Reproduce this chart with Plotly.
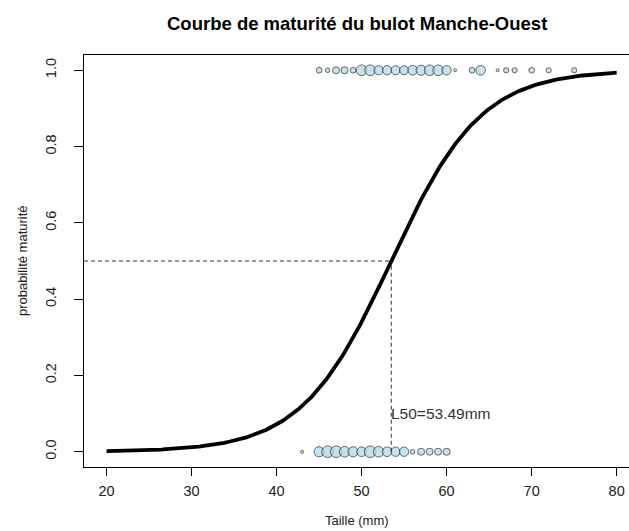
import numpy as np
import plotly.graph_objects as go

# Length classes (mm) and number of individuals per class
taille_matures = [45, 46, 47, 48, 49, 50, 51, 52, 53, 54, 55, 56, 57, 58, 59, 60,
                  61, 63, 64, 66, 67, 68, 70, 72, 75]
n_matures = [5, 3, 8, 8, 5, 20, 20, 15, 15, 14, 14, 16, 18, 20, 20, 15,
             1, 5, 16, 1, 4, 4, 5, 4, 4]

taille_immatures = [43, 45, 46, 47, 48, 49, 50, 51, 52, 53, 54, 55, 56, 57, 58, 59, 60]
n_immatures = [1, 18, 24, 24, 20, 18, 16, 24, 20, 16, 15, 15, 3, 8, 8, 8, 8]

# Fitted logistic maturity ogive
L50 = 53.49
pente = 0.19
taille_min, taille_max = 20, 80

x_tick_vals = [20, 30, 40, 50, 60, 70, 80]
y_tick_vals = [0.0, 0.2, 0.4, 0.6, 0.8, 1.0]
y_tick_text = ["0.0", "0.2", "0.4", "0.6", "0.8", "1.0"]

X_RANGE = [17.35, 81.45]
Y_RANGE = [-0.04, 1.04]

FONT = "Liberation Sans, Arial, sans-serif"


def taille_marqueur(n):
    return [2.2 * np.sqrt(v) + 0.8 for v in n]


x_curve = np.linspace(taille_min, taille_max, 300)
y_curve = 1.0 / (1.0 + np.exp(-pente * (x_curve - L50)))

fig = go.Figure()

# Reference lines at L50
fig.add_shape(type="line", x0=X_RANGE[0], x1=L50, y0=0.5, y1=0.5,
              xref="x", yref="y", line=dict(color="#333333", width=1, dash="4px,3px"))
fig.add_shape(type="line", x0=L50, x1=L50, y0=0.0, y1=0.5,
              xref="x", yref="y", line=dict(color="#333333", width=1, dash="4px,3px"))

fig.add_trace(go.Scatter(x=x_curve, y=y_curve, mode="lines",
                         line=dict(color="black", width=3.8), hoverinfo="skip"))

fig.add_trace(go.Scatter(
    x=taille_matures, y=[1.0] * len(taille_matures), mode="markers",
    marker=dict(size=taille_marqueur(n_matures), color="#ADD8E6",
                line=dict(color="#111111", width=0.9))))
fig.add_trace(go.Scatter(
    x=taille_immatures, y=[0.0] * len(taille_immatures), mode="markers",
    marker=dict(size=taille_marqueur(n_immatures), color="#ADD8E6",
                line=dict(color="#111111", width=0.9))))

fig.add_annotation(x=L50, y=0.1, xref="x", yref="y", text="L50=53.49mm",
                   showarrow=False, xanchor="left", yanchor="middle", xshift=-2,
                   font=dict(family=FONT, size=15.5, color="#333333"))

# Titles
fig.add_annotation(x=0.5, y=1, xref="paper", yref="paper", yshift=32,
                   text="<b>Courbe de maturité du bulot Manche-Ouest</b>",
                   showarrow=False, xanchor="center", yanchor="middle",
                   font=dict(family=FONT, size=18.5, color="black"))
fig.add_annotation(x=0.5, y=0, xref="paper", yref="paper", yshift=-53,
                   text="Taille (mm)", showarrow=False, xanchor="center", yanchor="middle",
                   font=dict(family=FONT, size=13, color="#222222"))
fig.add_annotation(x=0, y=0.5, xref="paper", yref="paper", xshift=-62,
                   text="probabilité maturité", textangle=-90, showarrow=False,
                   xanchor="center", yanchor="middle",
                   font=dict(family=FONT, size=13, color="#222222"))

fig.update_layout(
    width=629, height=531,
    margin=dict(l=84, r=0, t=55, b=64),
    paper_bgcolor="white", plot_bgcolor="white",
    showlegend=False,
    font=dict(family=FONT, size=14, color="#222222"),
)
fig.update_xaxes(range=X_RANGE, tickvals=x_tick_vals, ticks="outside", ticklen=8,
                 tickcolor="black", showline=True, linecolor="black", linewidth=1,
                 mirror=True, showgrid=False, zeroline=False, ticklabelstandoff=3,
                 tickfont=dict(family=FONT, size=14.5, color="#222222"))
fig.update_yaxes(range=Y_RANGE, tickvals=y_tick_vals, ticktext=y_tick_text,
                 tickangle=-90, ticks="outside", ticklen=9,
                 tickcolor="black", showline=True, linecolor="black", linewidth=1,
                 mirror=False, showgrid=False, zeroline=False, ticklabelstandoff=12,
                 tickfont=dict(family=FONT, size=14.5, color="#222222"))

fig.write_html("out.html")
